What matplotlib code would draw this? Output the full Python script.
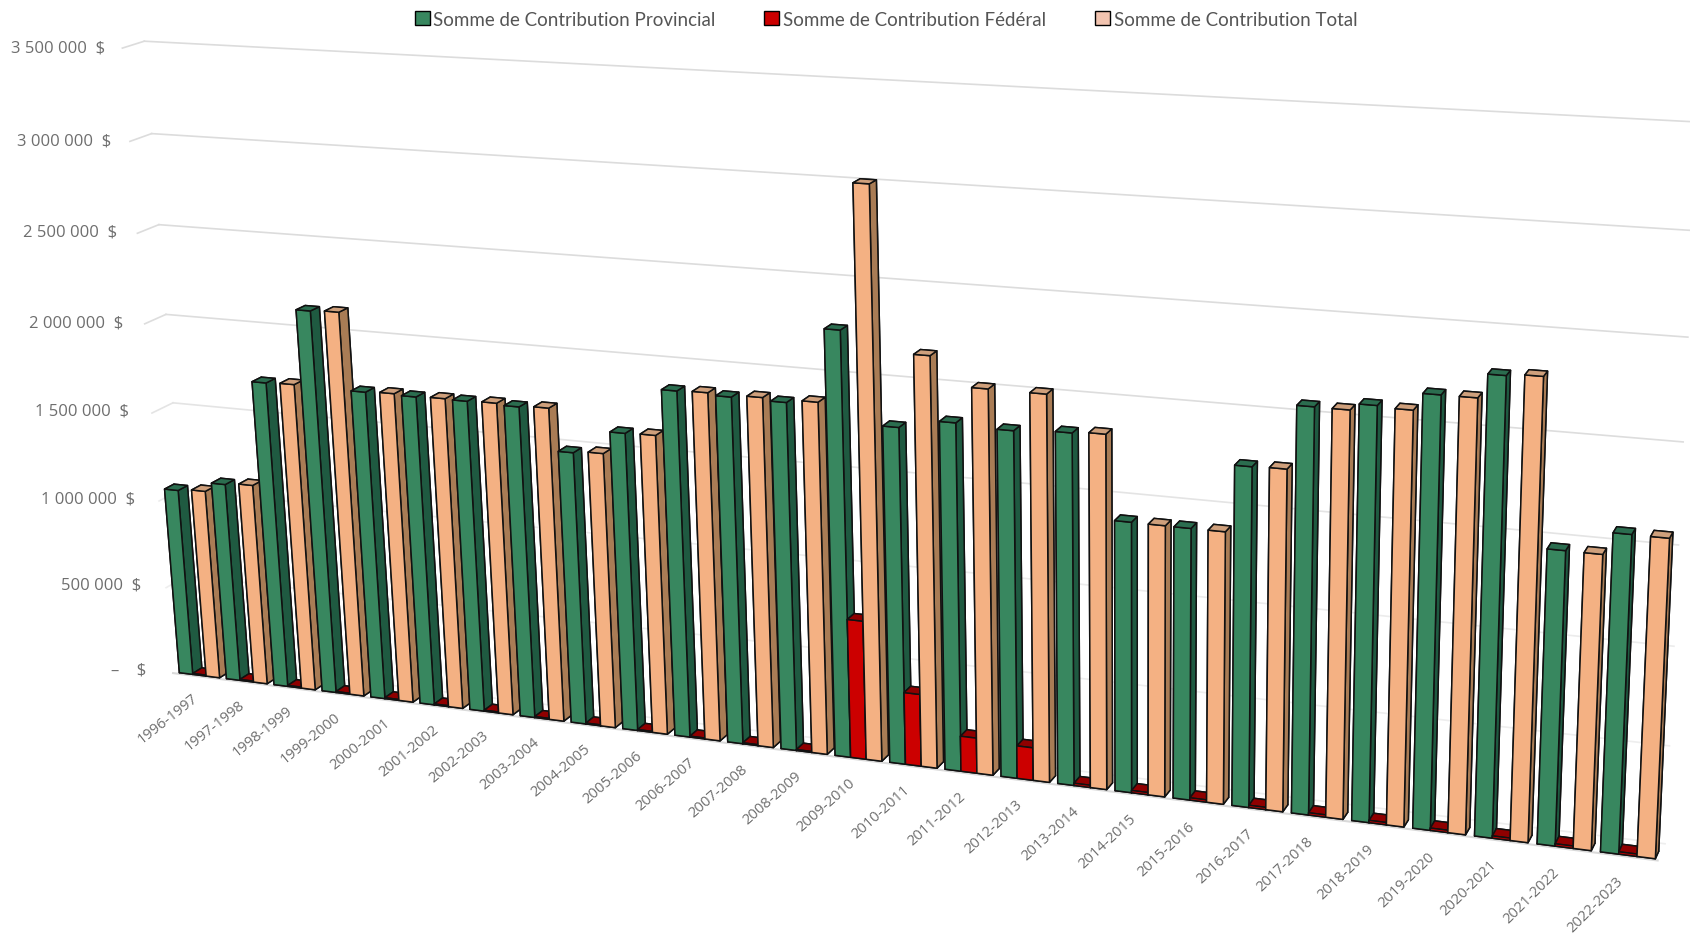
import matplotlib
matplotlib.use("Agg")
import matplotlib.pyplot as plt
from matplotlib.patches import Patch
from mpl_toolkits.mplot3d import proj3d

# Contributions par annee (en $)
annees = ["1996-1997", "1997-1998", "1998-1999", "1999-2000", "2000-2001", "2001-2002", "2002-2003",
          "2003-2004", "2004-2005", "2005-2006", "2006-2007", "2007-2008", "2008-2009", "2009-2010",
          "2010-2011", "2011-2012", "2012-2013", "2013-2014", "2014-2015", "2015-2016", "2016-2017",
          "2017-2018", "2018-2019", "2019-2020", "2020-2021", "2021-2022", "2022-2023"]
provincial = [1066000, 1128000, 1724000, 2143000, 1723000, 1722000, 1724000, 1719000, 1498000,
              1629000, 1880000, 1873000, 1870000, 2269000, 1792000, 1842000, 1828000, 1843000,
              1416000, 1414000, 1754000, 2078000, 2110000, 2187000, 2305000, 1484000, 1593000]
federal = [5000, 5000, 5000, 5000, 5000, 5000, 5000, 5000, 5000, 5000, 5000, 5000, 5000,
           750000, 390000, 190000, 175000, 12000, 12000, 12000, 12000, 12000, 12000, 12000, 12000, 12000, 12000]
total = [1077000, 1139000, 1729000, 2149000, 1729000, 1727000, 1728000, 1727000, 1509000, 1633000,
         1885000, 1885000, 1886000, 3020000, 2175000, 2030000, 2029000, 1852000, 1415000, 1414000,
         1758000, 2077000, 2102000, 2187000, 2315000, 1483000, 1592000]
ticks_y = [0, 500000, 1000000, 1500000, 2000000, 2500000, 3000000, 3500000]
labels_y = ["–    $", "500 000  $", "1 000 000  $", "1 500 000  $", "2 000 000  $", "2 500 000  $",
            "3 000 000  $", "3 500 000  $"]
couleurs_grille = ["#eeeeee", "#eeeeee", "#ececec", "#e4e4e4", "#dddddd", "#dcdcdc", "#dcdcdc", "#dcdcdc"]
noms = ["Somme de Contribution Provincial", "Somme de Contribution Fédéral", "Somme de Contribution Total"]

# couleurs: face avant, cote, dessus
vert = ("#38875f", "#1f5a41", "#2b6d4f")
rouge = ("#cc0000", "#8a0000", "#8f0000")
peche = ("#f4b183", "#a97c55", "#cfa07c")

W, H = 1702, 937
S = 1715
fig = plt.figure(figsize=(W / 100, H / 100), dpi=100, facecolor="white")
ax = fig.add_axes([-25 / W, -371 / H, S / W, S / H], projection="3d")
ax.set_proj_type("persp", focal_length=0.383)
ax.view_init(elev=16.3, azim=-68, roll=1.33)
ax.set_box_aspect((1621, 42, 697))
ax.computed_zorder = False
ax.set_axis_off()

largeur = 0.285
y_bar = 0.08
prof = 0.45
xmin, xmax = -0.5, len(annees) - 0.5

# quadrillage: mur du fond et petit mur de gauche
for v, c in zip(ticks_y, couleurs_grille):
    ax.plot([xmin, xmax], [1, 1], [v, v], color=c, lw=1.2, zorder=1)
    if v > 0:
        ax.plot([xmin, xmin], [0, 1], [v, v], color=c, lw=1.2, zorder=1)
ax.plot([xmin, xmax], [0, 0], [0, 0], color="#d9d9d9", lw=1.5, zorder=1)

rang = 2
for i in range(len(annees)):
    for k, (serie, coul) in enumerate([(provincial, vert), (federal, rouge), (total, peche)]):
        x0 = i - 0.40 + k * largeur
        faces = [coul[2], coul[2], coul[0], coul[1], coul[1], coul[1]]
        ax.bar3d([x0], [y_bar], [0], largeur, prof, serie[i], color=faces, shade=False,
                 edgecolor="#111111", linewidth=1.1, zorder=rang)
        rang += 1

ax.set_xlim(xmin, xmax)
ax.set_ylim(0, 1)
ax.set_zlim(0, 3500000)


def vers_figure(x, y, z):
    # position 3D -> fraction de la figure, pour poser les textes en 2D
    px, py, _ = proj3d.proj_transform(x, y, z, ax.get_proj())
    return fig.transFigure.inverted().transform(ax.transData.transform((px, py)))


for v, t in zip(ticks_y, labels_y):
    fx, fy = vers_figure(xmin - 0.57 + 0.22 * v / ticks_y[-1], 0, v)
    fig.text(fx, fy, t, ha="right", va="center", fontsize=12, color="#6e6e6e", family="Open Sans")
for i, a in enumerate(annees):
    fx, fy = vers_figure(i - 0.14, 0, -90000)
    fig.text(fx, fy, a, ha="right", va="top", rotation=38 + 7 * i / 26, rotation_mode="anchor",
             fontsize=10.6, color="#6e6e6e", family="Open Sans")

poignees = [Patch(facecolor=vert[0], edgecolor="black"), Patch(facecolor=rouge[0], edgecolor="black"),
            Patch(facecolor="#f2c4b0", edgecolor="black")]
fig.legend(poignees, noms, loc="center", bbox_to_anchor=(886 / W, 1 - 20 / H), ncol=3, frameon=False,
           handlelength=0.8, handleheight=0.8, handletextpad=0.2, columnspacing=2.6,
           labelcolor="#555555", prop={"family": "Lato", "size": 13.5})

fig.savefig("out.png", dpi=100)
